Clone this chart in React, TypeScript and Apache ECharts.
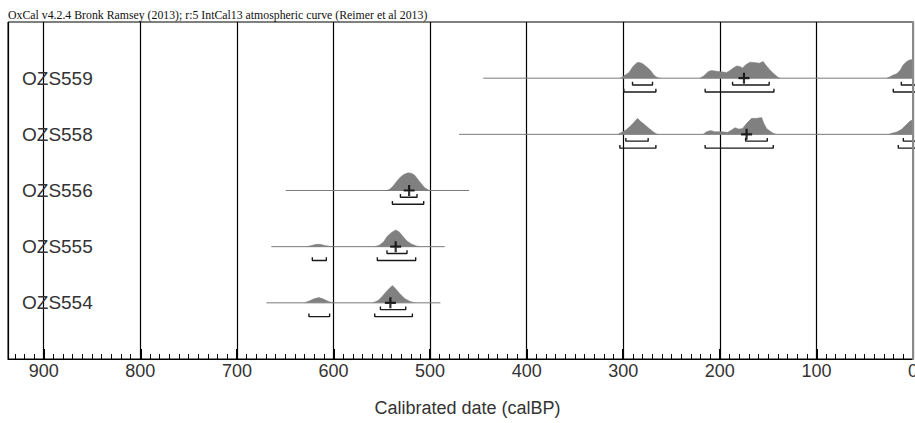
import React, { useEffect, useRef } from "react";
import * as echarts from "echarts";

// ---- data (calBP, relative probability) ----
const TITLE = "OxCal v4.2.4 Bronk Ramsey (2013); r:5 IntCal13 atmospheric curve (Reimer et al 2013)";
const AXIS_NAME = "Calibrated date (calBP)";
const SAMPLES = ["OZS559", "OZS558", "OZS556", "OZS555", "OZS554"];

const PEAKS_559 = [
  [[302.8, 0], [298, 0.17], [294, 0.32], [290, 0.65], [285.6, 0.87], [282.8, 0.87], [279.4, 0.79], [275.3, 0.61], [271.7, 0.43], [268.3, 0.18], [264.9, 0.04], [262, 0]],
  [[220.7, 0], [216.5, 0.13], [212, 0.37], [208.5, 0.43], [203.4, 0.39], [198.2, 0.35], [193, 0.32], [189.6, 0.43], [186.2, 0.56], [182.6, 0.68], [179.2, 0.65], [176.4, 0.56], [173.3, 0.74], [168.9, 0.89], [163.7, 0.87], [159.2, 0.83], [155.1, 0.93], [152.6, 0.74], [148.1, 0.46], [144, 0.24], [139.5, 0.04], [137.8, 0]],
  [[27, 0], [24.5, 0.06], [20.4, 0.18], [16.9, 0.24], [13.5, 0.43], [10, 0.74], [6.5, 0.93], [3.1, 1.02], [0, 1.03], [-5, 1.03]],
];
const PEAKS_558 = [
  [[305.3, 0], [301.8, 0.11], [297.3, 0.24], [293.2, 0.43], [289.8, 0.61], [285.2, 0.89], [282.1, 0.72], [277.6, 0.53], [273.2, 0.33], [269, 0.15], [265.5, 0.02], [263.8, 0]],
  [[217.2, 0], [213.7, 0.15], [209.6, 0.21], [205.1, 0.15], [198.2, 0.15], [192, 0.11], [187.8, 0.24], [184.4, 0.37], [180.3, 0.29], [176.4, 0.33], [172.3, 0.61], [167.1, 0.89], [162, 0.89], [156.7, 0.93], [154.4, 0.61], [151.6, 0.33], [148.1, 0.18], [144.7, 0.06], [141.9, 0]],
  [[25, 0], [22, 0.06], [16.9, 0.13], [11.7, 0.28], [6.5, 0.56], [3.1, 0.74], [0.7, 0.79], [-5, 0.89]],
];
const PEAKS_556 = [
  [[545.2, 0], [541.8, 0.07], [538.4, 0.24], [534.9, 0.48], [531.4, 0.71], [527.3, 0.89], [522.8, 0.98], [519.3, 0.96], [515.9, 0.85], [512.5, 0.61], [509, 0.37], [505.5, 0.15], [502.1, 0.04], [500.4, 0]],
];
const PEAKS_555 = [
  [[628.1, 0], [622.9, 0.06], [617.7, 0.13], [613.6, 0.13], [609.1, 0.07], [603.9, 0.02], [601, 0]],
  [[557.3, 0], [552.2, 0.09], [548, 0.28], [544.6, 0.56], [540, 0.79], [535.6, 0.93], [532.1, 0.83], [528, 0.56], [523.9, 0.32], [519.3, 0.15], [514.1, 0.04], [511, 0]],
];
const PEAKS_554 = [
  [[629.9, 0], [624.7, 0.11], [619.5, 0.24], [615, 0.29], [610.9, 0.22], [605.7, 0.09], [600.5, 0]],
  [[559.1, 0], [553.9, 0.13], [549.4, 0.37], [546, 0.59], [541.8, 0.83], [539, 0.96], [535.6, 0.78], [531.4, 0.52], [526.3, 0.24], [521.1, 0.09], [515.9, 0]],
];
const PEAKS = [PEAKS_559, PEAKS_558, PEAKS_556, PEAKS_555, PEAKS_554];

// full range of each likelihood (baseline)
const RANGES = [[445, -5], [470, -5], [649.5, 459.6], [664.4, 484.8], [669.5, 489.3]];
// mean (cross)
const MEANS = [175, 172.3, 521.7, 535.6, 541.1];
// 68.2% ranges
const RANGES_68 = [
  [[290.4, 269.7], [186.8, 148.9], [12.1, -5]],
  [[297.3, 274.2], [173.3, 150.9], [10, -5]],
  [[530.7, 513.5]],
  [[544.6, 523.9]],
  [[551.4, 525.2]],
];
// 95.4% ranges
const RANGES_95 = [
  [[299.4, 266.2], [215.2, 144], [20.4, -5]],
  [[303.5, 266.2], [215.2, 144.7], [15.2, -5]],
  [[539, 506.6]],
  [[621.9, 607.4], [554.6, 514.9]],
  [[625.4, 604], [557.3, 518.3]],
];

const X_MIN = 0;
const X_MAX = 937;

// ---- styling constants ----
const PX_PER_UNIT = 337 / 6;
const PEAK_H = 18 / PX_PER_UNIT;
const OFF_68 = 6.8 / PX_PER_UNIT;
const OFF_95 = 13.8 / PX_PER_UNIT;
const TICK_H = 3.2 / PX_PER_UNIT;
const PLUS = "path://M4,0L6,0L6,4L10,4L10,6L6,6L6,10L4,10L4,6L0,6L0,4L4,4Z";
const SANS = "'Liberation Sans', Arial, Helvetica, sans-serif";

function buildSeries() {
  const series: any[] = [];
  SAMPLES.forEach((_, i) => {
    const k = SAMPLES.length - i;
    series.push({
      type: "line",
      data: [[RANGES[i][0], k], [RANGES[i][1], k]],
      symbol: "none",
      silent: true,
      clip: true,
      z: 2,
      lineStyle: { color: "#7a7a7a", width: 1 },
    });
    PEAKS[i].forEach((pk) => {
      series.push({
        type: "line",
        data: pk.map(([v, d]) => [v, k + d * PEAK_H]),
        symbol: "none",
        silent: true,
        clip: true,
        z: 3,
        lineStyle: { color: "#808080", width: 0.5 },
        areaStyle: { color: "#808080", opacity: 1, origin: k },
      });
    });
    const addBrackets = (list: number[][], off: number) => {
      list.forEach(([a, b]) => {
        const y = k - off;
        series.push({
          type: "line",
          data: [[a, y + TICK_H], [a, y], [b, y], [b, y + TICK_H]],
          symbol: "none",
          silent: true,
          clip: true,
          z: 4,
          lineStyle: { color: "#1a1a1a", width: 1.4 },
        });
      });
    };
    addBrackets(RANGES_68[i], OFF_68);
    addBrackets(RANGES_95[i], OFF_95);
    series.push({
      type: "scatter",
      data: [[MEANS[i], k]],
      symbol: PLUS,
      symbolSize: 11,
      silent: true,
      z: 5,
      itemStyle: { color: "#000" },
    });
  });
  return series;
}

export default function App() {
  const ref = useRef<HTMLDivElement>(null);
  useEffect(() => {
    if (!ref.current) return;
    const chart = echarts.init(ref.current, null, { renderer: "svg" });
    chart.setOption({
      animation: false,
      backgroundColor: "#fff",
      title: {
        text: TITLE,
        left: 6,
        top: 7,
        padding: [2, 2, 2, 2],
        textStyle: { fontFamily: "'Liberation Serif', 'Times New Roman', serif", fontSize: 11.8, fontWeight: "normal", color: "#111" },
      },
      grid: {
        left: 8,
        right: 2,
        top: 22,
        bottom: 64,
        outerBoundsMode: "none",
        containLabel: false,
        show: true,
        borderColor: "#000",
        borderWidth: 1,
        backgroundColor: "transparent",
      },
      xAxis: [
        {
          type: "value",
          inverse: true,
          min: X_MIN,
          max: X_MAX,
          interval: 100,
          position: "bottom",
          axisLine: { show: true, lineStyle: { color: "#000", width: 1.2 } },
          axisTick: { show: true, inside: true, length: 10, lineStyle: { color: "#000", width: 2 } },
          splitLine: { show: true, lineStyle: { color: "#000", width: 1.2 } },
          axisLabel: {
            show: true,
            margin: 3,
            fontSize: 18,
            color: "#333",
            fontFamily: SANS,
            showMaxLabel: false,
            hideOverlap: false,
            formatter: (v: number) => (v % 100 === 0 ? String(v) : ""),
          },
          name: AXIS_NAME,
          nameLocation: "middle",
          nameGap: 40,
          nameTextStyle: { fontSize: 18, color: "#333", fontFamily: SANS, padding: [0, 0, 0, 14] },
        },
        {
          type: "value",
          inverse: true,
          min: X_MIN,
          max: X_MAX,
          interval: 10,
          position: "bottom",
          axisLine: { show: false },
          axisTick: { show: true, inside: true, length: 5, lineStyle: { color: "#000", width: 1 } },
          splitLine: { show: false },
          axisLabel: { show: false },
        },
      ],
      yAxis: {
        type: "value",
        min: 0,
        max: 6,
        interval: 1,
        z: 6,
        axisLine: { show: true, lineStyle: { color: "#8a8a8a", width: 2 } },
        axisTick: { show: false },
        splitLine: { show: false },
        axisLabel: {
          inside: true,
          margin: 14,
          fontSize: 19,
          color: "#333",
          fontFamily: SANS,
          formatter: (v: number) => (v >= 1 && v <= 5 ? SAMPLES[SAMPLES.length - v] : ""),
        },
      },
      series: buildSeries(),
    });
    return () => chart.dispose();
  }, []);
  return <div ref={ref} style={{ position: "fixed", left: 0, top: 0, width: 915, height: 423 }} />;
}
